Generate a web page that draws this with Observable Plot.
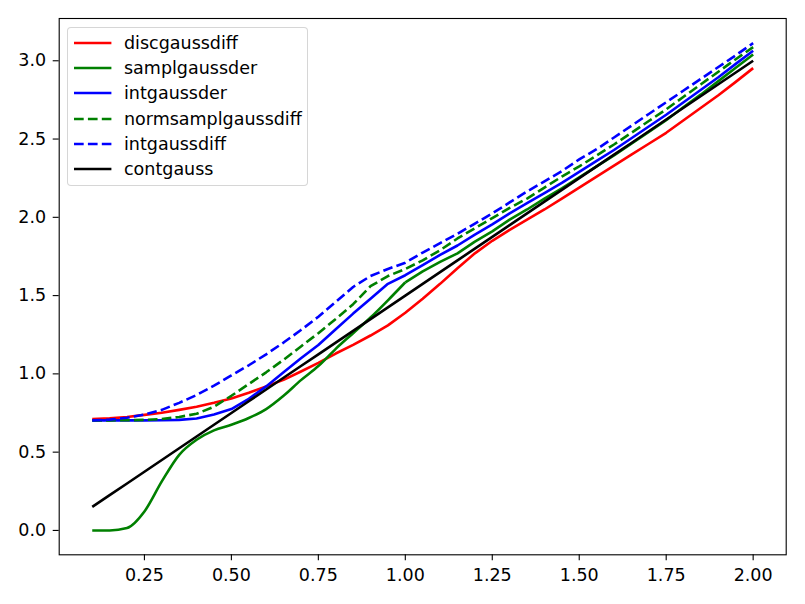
<!DOCTYPE html>
<html>
<head>
<meta charset="utf-8">
<script src="https://cdn.jsdelivr.net/npm/d3@7"></script>
<script src="https://cdn.jsdelivr.net/npm/@observablehq/plot@0.6"></script>
<style>
  html, body { margin: 0; padding: 0; background: white; }
  #wrap { position: relative; width: 805px; height: 604px; font-family: "DejaVu Sans", sans-serif; }
  #legend { position: absolute; left: 67px; top: 27px; width: 241px; height: 159px; box-sizing: border-box;
            border: 1px solid rgba(204,204,204,0.8); border-radius: 4px; background: rgba(255,255,255,0.8); }
  .row { position: absolute; left: 0; height: 20px; display: flex; align-items: center; }
  .row svg { position: absolute; left: 6px; }
  .row span { position: absolute; left: 56px; font-size: 17.5px; white-space: nowrap; line-height: 20px; color: #000; }
</style>
</head>
<body>
<div id="wrap"></div>
<script>
const xValues = [0.10,0.15,0.20,0.25,0.30,0.35,0.40,0.45,0.50,0.55,0.60,0.65,0.70,0.75,0.80,0.85,0.90,0.95,1.00,1.05,1.10,1.15,1.20,1.25,1.30,1.35,1.40,1.45,1.50,1.55,1.60,1.65,1.70,1.75,1.80,1.85,1.90,1.95,2.00];

const discgaussdiff = [0.712,0.716,0.725,0.738,0.752,0.770,0.790,0.815,0.843,0.880,0.920,0.962,1.015,1.070,1.130,1.185,1.245,1.310,1.390,1.480,1.575,1.675,1.770,1.850,1.920,1.985,2.050,2.120,2.190,2.260,2.330,2.400,2.470,2.540,2.620,2.700,2.780,2.865,2.953];
const samplgaussder = [0,0,0.015,0.121,0.313,0.483,0.579,0.639,0.675,0.718,0.775,0.860,0.960,1.050,1.160,1.260,1.360,1.470,1.585,1.655,1.715,1.770,1.845,1.910,1.985,2.050,2.120,2.185,2.255,2.325,2.395,2.470,2.545,2.620,2.705,2.785,2.870,2.955,3.040];
const intgaussder = [0.703,0.703,0.703,0.703,0.704,0.706,0.715,0.740,0.775,0.840,0.920,1.010,1.100,1.185,1.285,1.385,1.480,1.575,1.630,1.695,1.760,1.820,1.890,1.955,2.025,2.090,2.155,2.220,2.290,2.360,2.430,2.505,2.580,2.655,2.735,2.815,2.895,2.980,3.064];
const normsamplgaussdiff = [0.703,0.703,0.704,0.706,0.712,0.725,0.745,0.790,0.860,0.935,1.010,1.090,1.175,1.260,1.350,1.445,1.560,1.625,1.670,1.725,1.790,1.865,1.930,1.995,2.060,2.120,2.190,2.260,2.325,2.395,2.465,2.540,2.615,2.690,2.770,2.850,2.930,3.010,3.087];
const intgaussdiff = [0.703,0.708,0.720,0.740,0.770,0.815,0.865,0.925,0.990,1.055,1.125,1.200,1.280,1.365,1.460,1.555,1.625,1.670,1.710,1.775,1.835,1.895,1.960,2.025,2.095,2.165,2.230,2.295,2.370,2.435,2.510,2.585,2.660,2.735,2.810,2.885,2.960,3.035,3.113];
const contgauss = [0.150,0.225,0.300,0.375,0.450,0.525,0.600,0.675,0.750,0.825,0.900,0.975,1.050,1.125,1.200,1.275,1.350,1.425,1.500,1.575,1.650,1.725,1.800,1.875,1.950,2.025,2.100,2.175,2.250,2.325,2.400,2.475,2.550,2.625,2.700,2.775,2.850,2.925,3.000];

const seriesNames = ["discgaussdiff","samplgaussder","intgaussder","normsamplgaussdiff","intgaussdiff","contgauss"];
const seriesValues = [discgaussdiff, samplgaussder, intgaussder, normsamplgaussdiff, intgaussdiff, contgauss];
const seriesColors = ["#ff0000","#008000","#0000ff","#008000","#0000ff","#000000"];
const seriesDashed = [false,false,false,true,true,false];

const xTicks = [0.25,0.50,0.75,1.00,1.25,1.50,1.75,2.00];
const yTicks = [0.0,0.5,1.0,1.5,2.0,2.5,3.0];

const dash = "9.7,4.2";
const lw = 2.6;

const lineMarks = [];
seriesNames.forEach((name, k) => {
  const data = xValues.map((xv, i) => ({series: name, x: xv, y: seriesValues[k][i]}));
  const opts = {x: "x", y: "y", stroke: seriesColors[k], strokeWidth: lw,
    strokeDasharray: seriesDashed[k] ? dash : undefined, strokeLinejoin: "round", strokeLinecap: "butt"};
  if (name === "samplgaussder") {
    // smooth S-shaped start, sharp kink at x = 1.0 kept
    lineMarks.push(Plot.line(data.filter(d => d.x <= 1.0001), {...opts, curve: "monotone-x"}));
    lineMarks.push(Plot.line(data.filter(d => d.x >= 0.9999), opts));
  } else {
    lineMarks.push(Plot.line(data, opts));
  }
});

const chart = Plot.plot({
  width: 805,
  height: 604,
  marginLeft: 58.7,
  marginRight: 19.3,
  marginTop: 18,
  marginBottom: 49.7,
  style: {fontFamily: "DejaVu Sans", fontSize: "17.5px", color: "black", background: "white", overflow: "visible"},
  x: {domain: [0.005, 2.095]},
  y: {domain: [-0.1557, 3.270]},
  marks: [
    ...lineMarks,
    Plot.frame({stroke: "black", strokeWidth: 1.1}),
    Plot.axisX({ticks: xTicks, tickFormat: d3.format(".2f"), tickSize: 6, tickPadding: 8, strokeWidth: 1.1, label: null, fontSize: 17.5}),
    Plot.axisY({ticks: yTicks, tickFormat: d3.format(".1f"), tickSize: 6, tickPadding: 7, strokeWidth: 1.1, label: null, fontSize: 17.5})
  ]
});

const wrap = document.getElementById("wrap");
wrap.appendChild(chart);

// Legend overlay
const legend = document.createElement("div");
legend.id = "legend";
const rowTops = [41.7, 67.0, 92.3, 117.6, 142.9, 168.2];
seriesNames.forEach((name, k) => {
  const row = document.createElement("div");
  row.className = "row";
  row.style.top = (rowTops[k] - 27 - 10) + "px";
  const sw = d3.create("svg").attr("width", 40).attr("height", 20);
  sw.append("line").attr("x1", 0).attr("x2", 37.4).attr("y1", 10).attr("y2", 10)
    .attr("stroke", seriesColors[k]).attr("stroke-width", lw)
    .attr("stroke-dasharray", seriesDashed[k] ? dash : null);
  row.appendChild(sw.node());
  const sp = document.createElement("span");
  sp.textContent = name;
  row.appendChild(sp);
  legend.appendChild(row);
});
wrap.appendChild(legend);
</script>
</body>
</html>
